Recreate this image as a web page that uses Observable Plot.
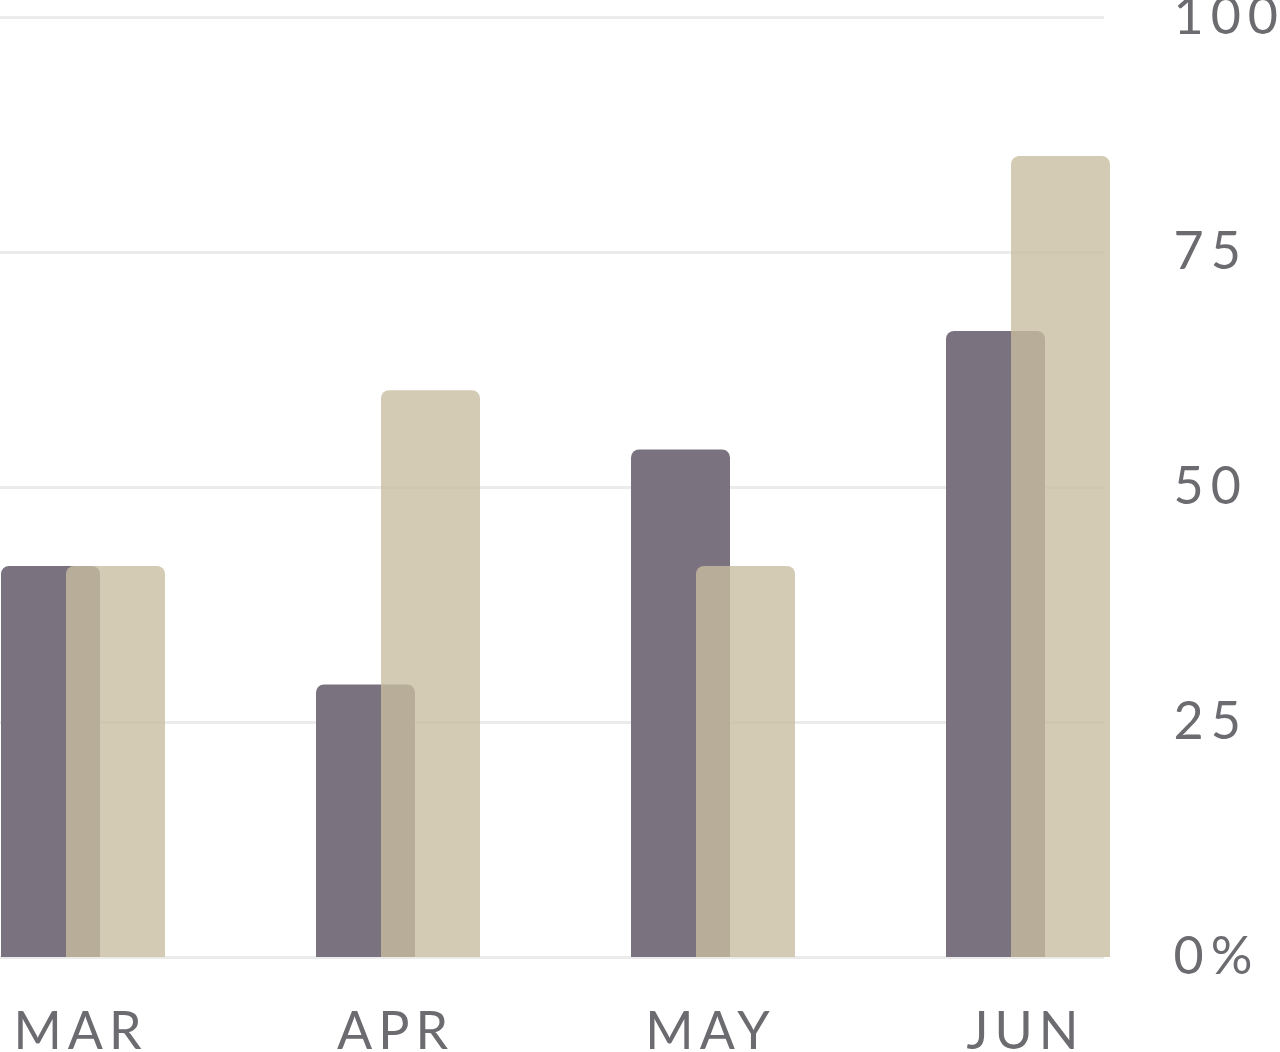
<!DOCTYPE html>
<html>
<head>
<meta charset="utf-8">
<script src="https://cdn.jsdelivr.net/npm/d3@7"></script>
<script src="https://cdn.jsdelivr.net/npm/@observablehq/plot@0.6"></script>
<style>
  html, body { margin: 0; padding: 0; background: #fff; }
  #chart svg { display: block; }
  g[aria-label="x-axis tick label"] text { letter-spacing: 6px; }
  g[aria-label="y-axis tick label"] text { letter-spacing: 7px; }
</style>
</head>
<body>
<div id="chart"></div>
<script>
const months = ["MAR", "APR", "MAY", "JUN"];
const seriesDark = [41.6, 29, 54, 66.6];
const seriesLight = [41.6, 60.3, 41.6, 85.2];
const yTicks = [0, 25, 50, 75, 100];

const dark = months.map((m, i) => ({month: m, value: seriesDark[i]}));
const light = months.map((m, i) => ({month: m, value: seriesLight[i]}));

const chart = Plot.plot({
  width: 1280,
  height: 1052,
  marginLeft: 0,
  marginRight: 169,
  marginTop: 17,
  marginBottom: 95,
  style: {fontFamily: "Lato, sans-serif", background: "#fff", overflow: "hidden"},
  x: {domain: months, paddingInner: 0.478, paddingOuter: 0, label: null},
  y: {domain: [0, 100], label: null},
  marks: [
    Plot.ruleY(yTicks, {stroke: "#ebebeb", strokeWidth: 3, insetRight: 7}),
    Plot.rectY(dark, {x: "month", y: "value", fill: "#7a737f", insetRight: 65, rx1y2: 8, rx2y2: 8}),
    Plot.rectY(light, {x: "month", y: "value", fill: "#c8bda0", fillOpacity: 0.79, insetLeft: 65, rx1y2: 8, rx2y2: 8}),
    Plot.axisX({tickSize: 0, tickPadding: 55, fontSize: 52, fill: "#6b6b70", label: null, dx: -3}),
    Plot.axisY({anchor: "right", ticks: yTicks, tickSize: 0, tickPadding: 62, textAnchor: "start",
      tickFormat: d => d === 0 ? "0%" : String(d), fontSize: 52, fill: "#6b6b70", label: null})
  ]
});
document.getElementById("chart").appendChild(chart);
</script>
</body>
</html>
